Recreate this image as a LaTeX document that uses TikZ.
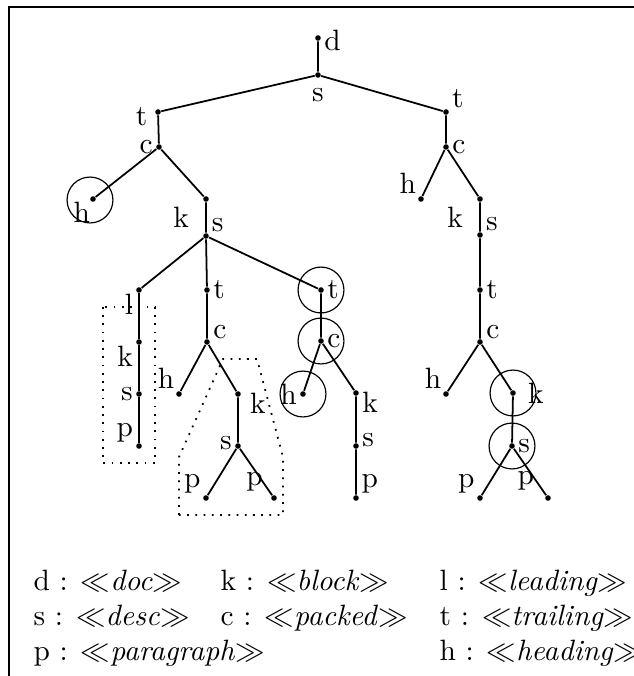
\documentclass[tikz,border=0pt]{standalone}
\usepackage{amsmath,amssymb}
\usepackage{tikz}
\usetikzlibrary{positioning}
\tikzset{
  vtx/.style ={circle, fill, inner sep=0pt, minimum size=1.9pt},
  ring/.style={draw, circle, thin, inner sep=0pt, minimum size=15.6pt},
  edge/.style={semithick},
  zone/.style={line width=0.6pt, dash pattern=on 0.6pt off 2.2pt},
  frame/.style={line width=0.7pt},
  key/.style ={anchor=base west, inner sep=0pt},
  every label/.style={inner sep=0.8pt},
  label distance=0pt,
}
\newcommand{\elt}[1]{$\ll$\textit{#1}$\gg$}

\begin{document}
\begin{tikzpicture}[x=0.34pt, y=-0.34pt]
  \useasboundingbox (0,0) rectangle (634,676);
  \draw[frame] (634,7) -- (9,7) -- (9,676);

  % root
  \node[vtx, label={[yshift=-1pt]right:d}] (d0) at (318,38){};
  \node[vtx, label={[label distance=2.5pt]below:s}] (s0) at (318,75){};

  % left part
  \node[vtx, label={[yshift=-1.5pt, xshift=-1.5pt]left:t}] (t1) at (158,112){};
  \node[vtx, label=left:c] (c1) at (159,147){};
  \node[vtx, label={[label distance=-1pt]250:h}] (h1) at (93,199){};
  \node[vtx, label={[label distance=4pt]200:k}] (k1) at (206,199){};
  \node[vtx, label=30:s] (s1) at (206,236){};
  \node[vtx, label=205:l] (l1) at (139,290){};
  \node[vtx, label=right:t] (t2) at (207,290){};
  \node[vtx, label=right:t] (t3) at (321,290){};
  \node[vtx, label=205:k] (k2) at (139,342){};
  \node[vtx, label=left:s] (s2) at (139,394){};
  \node[vtx, label=160:p] (p2) at (139,446){};
  \node[vtx, label=10:c] (c2) at (207,342){};
  \node[vtx, label=125:h] (h2) at (179,394){};
  \node[vtx, label={[yshift=-3pt, xshift=2pt]right:k}] (k3) at (238,394){};
  \node[vtx, label={[yshift=1pt]left:s}] (s3) at (238,446){};
  \node[vtx, label=140:p] (p3) at (206,498){};
  \node[vtx, label={[label distance=2pt]155:p}] (p4) at (274,498){};
  \node[vtx, label=right:c] (c3) at (321,341){};
  \node[vtx, label=left:h] (h3) at (303,394){};
  \node[vtx, label={[yshift=-3pt]right:k}] (k4) at (356,393){};
  \node[vtx, label={[yshift=2pt]right:s}] (s4) at (356,446){};
  \node[vtx, label=40:p] (p5) at (356,498){};

  % right part
  \node[vtx, label=15:t] (t5) at (446,112){};
  \node[vtx, label=right:c] (c5) at (446,147){};
  \node[vtx, label=130:h] (h5) at (421,199){};
  \node[vtx, label={[label distance=4pt]200:k}] (k5) at (480,199){};
  \node[vtx, label=20:s] (s5) at (480,235){};
  \node[vtx, label=right:t] (t6) at (480,290){};
  \node[vtx, label=10:c] (c6) at (480,342){};
  \node[vtx, label=125:h] (h6) at (446,394){};
  \node[vtx, label={[label distance=3pt]right:k}] (k6) at (513,393){};
  \node[vtx, label=right:s] (s6) at (512,446){};
  \node[vtx, label=140:p] (p6) at (480,498){};
  \node[vtx, label={[label distance=3pt]155:p}] (p7) at (548,498){};

  \draw[edge] (d0)--(s0) (s0)--(t1) (s0)--(t5);
  \draw[edge] (t1)--(c1) (c1)--(h1) (c1)--(k1) (k1)--(s1);
  \draw[edge] (s1)--(l1) (s1)--(t2) (s1)--(t3);
  \draw[edge] (l1)--(k2) (k2)--(s2) (s2)--(p2);
  \draw[edge] (t2)--(c2) (c2)--(h2) (c2)--(k3) (k3)--(s3) (s3)--(p3) (s3)--(p4);
  \draw[edge] (t3)--(c3) (c3)--(h3) (c3)--(k4) (k4)--(s4) (s4)--(p5);
  \draw[edge] (t5)--(c5) (c5)--(h5) (c5)--(k5) (k5)--(s5) (s5)--(t6);
  \draw[edge] (t6)--(c6) (c6)--(h6) (c6)--(k6) (k6)--(s6) (s6)--(p6) (s6)--(p7);

  % marked nodes
  \node[ring] (rh1) at (90,200){};
  \node[ring] (rt3) at (t3){};
  \node[ring] (rc3) at (c3){};
  \node[ring] (rh3) at (h3){};
  \node[ring] (rk6) at (k6){};
  \node[ring] (rs6) at (s6){};

  % dotted groups
  \draw[zone] (103,307) rectangle (155,463);
  \draw[zone] (179,515) -- (179,457) -- (223,359) -- (257,359) -- (283,457) -- (283,515) -- cycle;

  % key
  \node[key] (kd) at (33,590) {d : \elt{doc}};
  \node[key] (kk) at (220,590) {k : \elt{block}};
  \node[key] (kl) at (439,590) {l : \elt{leading}};
  \node[key] (ks) at (33,625) {s : \elt{desc}};
  \node[key] (kc) at (220,625) {c : \elt{packed}};
  \node[key] (kt) at (439,625) {t : \elt{trailing}};
  \node[key] (kp) at (33,660) {p : \elt{paragraph}};
  \node[key] (kh) at (439,660) {h : \elt{heading}};
\end{tikzpicture}
\end{document}
